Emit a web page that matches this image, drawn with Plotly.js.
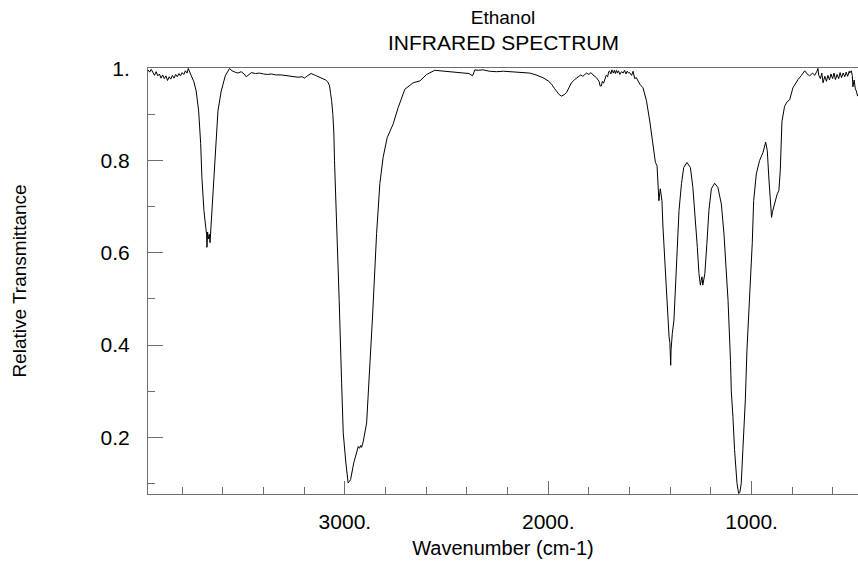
<!DOCTYPE html>
<html>
<head>
<meta charset="utf-8">
<script src="https://cdn.plot.ly/plotly-3.0.1.min.js"></script>
<style>html,body{margin:0;padding:0;background:#fff;}#chart{width:858px;height:564px;}</style>
</head>
<body>
<div id="chart"></div>
<script>
// Wavenumber (cm-1)
const wavenumber = [
3968,3960,3952,3944,3936,3928,3920,3912,3904,3896,3888,3880,3872,3864,3856,3848,3840,3832,3824,3816,
3808,3800,3792,3784,3776,3770,3762,3755,3743,3731,3719,3709,3703,3693,3684,3680,3678,3675,3670,3666,
3663,3658,3654,3640,3624,3608,3588,3567,3555,3540,3526,3510,3495,3485,3472,3460,3440,3420,3400,3380,
3360,3340,3313,3290,3270,3250,3230,3210,3198,3185,3166,3145,3116,3095,3084,3075,3070,3065,3059,3054,
3051,3046,3041,3034,3028,3016,3008,2995,2984,2978,2972,2956,2940,2934,2928,2922,2918,2910,2893,2881,
2864,2844,2828,2812,2792,2763,2738,2705,2664,2631,2615,2598,2558,2530,2500,2470,2440,2419,2390,2372,
2366,2361,2345,2320,2290,2255,2220,2190,2156,2120,2091,2060,2026,2000,1984,1970,1960,1948,1935,1922,
1910,1898,1886,1870,1853,1840,1830,1812,1800,1790,1780,1770,1763,1750,1745,1739,1734,1728,1722,1715,
1708,1703,1698,1692,1687,1680,1675,1670,1665,1660,1655,1648,1640,1632,1625,1618,1612,1605,1600,1590,
1583,1575,1567,1559,1550,1534,1517,1501,1485,1473,1465,1460,1456,1449,1441,1436,1428,1419,1411,1406,
1402,1400,1398,1396,1393,1390,1382,1370,1357,1345,1334,1318,1301,1289,1277,1267,1259,1252,1248,1244,
1240,1237,1233,1230,1220,1210,1198,1182,1166,1149,1136,1124,1116,1104,1100,1092,1084,1072,1064,1058,
1051,1043,1031,1023,1010,997,990,977,961,944,931,923,915,908,902,897,892,883,874,866,
859,851,838,825,813,797,772,755,739,727,715,700,690,680,674,670,662,655,649,640,
632,625,617,610,602,595,588,580,572,565,558,550,542,535,528,520,518,510,505,502,
496,490,485,479
];
// Relative transmittance at each wavenumber
const transmittance = [
0.997,0.992,0.998,0.990,0.985,0.993,0.984,0.988,0.979,0.986,0.978,0.984,0.974,0.982,0.977,0.985,0.979,0.987,0.982,0.989,
0.984,0.991,0.987,0.995,0.990,1.000,0.990,0.984,0.972,0.951,0.908,0.837,0.763,0.692,0.655,0.640,0.612,0.645,0.630,0.640,
0.622,0.660,0.692,0.800,0.908,0.951,0.984,1.000,0.995,0.992,0.990,0.993,0.988,0.982,0.987,0.991,0.989,0.990,0.988,0.987,
0.988,0.986,0.986,0.985,0.984,0.983,0.981,0.982,0.979,0.984,0.989,0.985,0.980,0.975,0.971,0.962,0.945,0.930,0.900,0.858,
0.800,0.740,0.677,0.584,0.497,0.318,0.209,0.144,0.101,0.104,0.108,0.145,0.173,0.180,0.176,0.182,0.178,0.190,0.231,0.318,
0.461,0.642,0.750,0.807,0.850,0.879,0.915,0.955,0.969,0.973,0.980,0.987,0.996,0.995,0.994,0.993,0.991,0.991,0.989,0.984,
0.993,0.997,0.996,0.997,0.994,0.993,0.994,0.993,0.993,0.991,0.990,0.986,0.980,0.973,0.966,0.957,0.951,0.944,0.940,0.943,
0.948,0.958,0.969,0.976,0.982,0.986,0.983,0.990,0.987,0.991,0.986,0.983,0.980,0.972,0.962,0.962,0.972,0.968,0.978,0.985,
0.982,0.993,0.994,0.988,0.997,0.990,0.996,0.989,0.996,0.990,0.995,0.987,0.993,0.990,0.996,0.988,0.994,0.990,0.991,0.985,
0.994,0.978,0.980,0.973,0.966,0.958,0.930,0.886,0.836,0.796,0.789,0.742,0.713,0.739,0.713,0.656,0.584,0.512,0.440,0.418,
0.405,0.390,0.356,0.390,0.410,0.425,0.454,0.584,0.692,0.750,0.785,0.796,0.785,0.742,0.677,0.612,0.555,0.530,0.540,0.548,
0.530,0.540,0.545,0.555,0.620,0.692,0.739,0.751,0.742,0.706,0.641,0.548,0.497,0.367,0.300,0.245,0.173,0.100,0.078,0.080,
0.100,0.173,0.281,0.389,0.497,0.620,0.713,0.771,0.800,0.818,0.840,0.822,0.760,0.706,0.677,0.690,0.699,0.713,0.728,0.735,
0.780,0.885,0.918,0.928,0.932,0.958,0.976,0.985,0.995,0.988,0.984,0.990,0.985,0.993,1.000,0.985,0.978,0.990,0.969,0.983,
0.972,0.985,0.975,0.988,0.978,0.990,0.976,0.987,0.978,0.991,0.980,0.990,0.982,0.992,0.983,0.994,0.990,0.995,0.985,0.960,
0.975,0.955,0.951,0.940
];
const xTickVals = [3000, 2000, 1000];
const xTickText = ['3000.', '2000.', '1000.'];
const xMinorVals = [3800, 3600, 3400, 3200, 2800, 2600, 2400, 2200, 1800, 1600, 1400, 1200, 800, 600];
const yTickVals = [0.2, 0.4, 0.6, 0.8, 1.0];
const yTickText = ['0.2', '0.4', '0.6', '0.8', '1.'];
const yMinorVals = [0.1, 0.3, 0.5, 0.7, 0.9];

const FONT = 'Liberation Sans, Arial, sans-serif';
const axisGrey = '#6e6e6e';

const trace = {
  x: wavenumber, y: transmittance, type: 'scatter', mode: 'lines',
  line: {color: '#000000', width: 1}, hoverinfo: 'x+y', showlegend: false
};

const layout = {
  width: 858, height: 564,
  margin: {l: 148, r: 0, t: 68, b: 70, pad: 0},
  paper_bgcolor: '#ffffff', plot_bgcolor: '#ffffff',
  font: {family: FONT, size: 20, color: '#000000'},
  title: {text: 'Ethanol', font: {family: FONT, size: 19, color: '#000'},
          x: 0.5, xref: 'paper', xanchor: 'center', y: 1 - 17/564, yref: 'container', yanchor: 'middle'},
  annotations: [{text: 'INFRARED SPECTRUM', xref: 'paper', x: 0.5, xanchor: 'center',
                 yref: 'paper', y: 1 + 25/426, yanchor: 'middle', showarrow: false,
                 font: {family: FONT, size: 21, color: '#000'}}],
  xaxis: {
    range: [3968, 477], autorange: false,
    showgrid: false, zeroline: false,
    showline: true, linecolor: axisGrey, linewidth: 1, mirror: true,
    tickmode: 'array', tickvals: xTickVals, ticktext: xTickText,
    ticks: 'inside', ticklen: 13, tickwidth: 1, tickcolor: axisGrey,
    minor: {tickmode: 'array', tickvals: xMinorVals, ticks: 'inside', ticklen: 7, tickwidth: 1, tickcolor: axisGrey, showgrid: false},
    tickfont: {family: FONT, size: 21, color: '#000'},
    ticklabelstandoff: 9,
    title: {text: 'Wavenumber (cm-1)', font: {family: FONT, size: 20, color: '#000'}, standoff: 8},
    automargin: false
  },
  yaxis: {
    range: [0.0768, 1.001], autorange: false,
    showgrid: false, zeroline: false,
    showline: true, linecolor: axisGrey, linewidth: 1, mirror: false,
    tickmode: 'array', tickvals: yTickVals, ticktext: yTickText,
    ticks: 'inside', ticklen: 15, tickwidth: 1, tickcolor: axisGrey,
    minor: {tickmode: 'array', tickvals: yMinorVals, ticks: 'inside', ticklen: 7, tickwidth: 1, tickcolor: axisGrey, showgrid: false},
    tickfont: {family: FONT, size: 21, color: '#000'},
    ticklabelstandoff: 13,
    title: {text: 'Relative Transmittance', font: {family: FONT, size: 19, color: '#000'}, standoff: 68},
    automargin: false
  }
};

Plotly.newPlot('chart', [trace], layout, {displayModeBar: false, staticPlot: true});
</script>
</body>
</html>
